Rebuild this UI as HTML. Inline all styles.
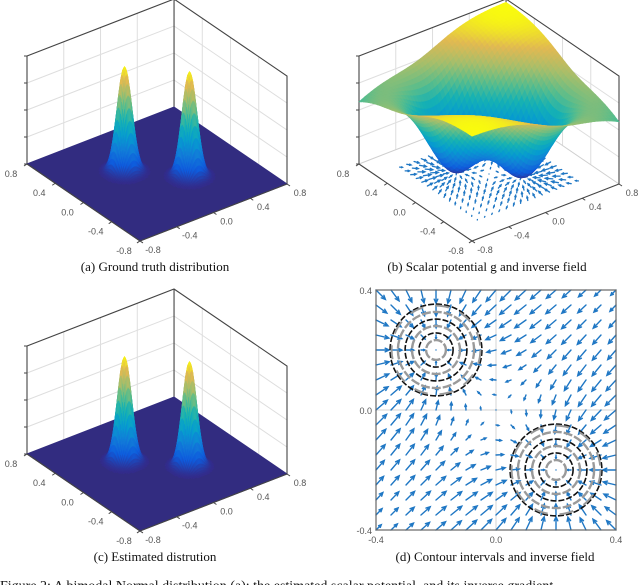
<!DOCTYPE html>
<html><head><meta charset="utf-8"><style>
html,body{margin:0;padding:0;background:#fff;}
svg{display:block;}
text{font-family:"Liberation Sans",sans-serif;}
.cap{font-family:"Liberation Serif",serif;font-size:13px;fill:#111;}
</style></head><body>
<svg id="fig" width="640" height="585" viewBox="0 0 640 585" xmlns="http://www.w3.org/2000/svg">
<rect x="0" y="0" width="640" height="585" fill="#fff"/>
<g id="pa"></g>
<g id="pb"></g>
<g id="pc"></g>
<g id="pd"></g>
<text class="cap" x="155" y="271" text-anchor="middle">(a)  Ground truth distribution</text>
<text class="cap" x="487" y="271" text-anchor="middle">(b)  Scalar potential g and inverse field</text>
<text class="cap" x="155" y="561" text-anchor="middle">(c)  Estimated distrution</text>
<text class="cap" x="495" y="561" text-anchor="middle">(d)  Contour intervals and inverse field</text>
<text x="0" y="590" style="font-family:'Liberation Serif',serif;font-size:14px;fill:#111">Figure 2: A bimodal Normal distribution (a); the estimated scalar potential, and its inverse gradient</text>
</svg>
<script>
// ---- data ----
const peakX = [-0.2, 0.2];
const peakY = [0.2, -0.2];
const peakHeightA = [0.97, 0.97];
const peakSigmaA = [0.065, 0.065];
const peakHeightC = [0.97, 0.97];
const peakSigmaC = [0.062, 0.062];
const axisTicks3D = [-0.8, -0.4, 0.0, 0.4, 0.8];
const axisTickLabels3D = ["-0.8", "-0.4", "0.0", "0.4", "0.8"];
const zTicks = [0, 0.25, 0.5, 0.75, 1];
const potentialScale = [0.97];
const potentialSigma = [0.28];
const potentialAniso = [0.4];
const quiverRangeB = [-0.55, 0.55];
const quiverRangeD = [-0.4, 0.4];
const axisTicks2D = [-0.4, 0.0, 0.4];
const axisTickLabels2D = ["-0.4", "0.0", "0.4"];
const contourRadiiBlack = [0.153, 0.103, 0.057];
const contourRadiiGray = [0.127, 0.08, 0.033];

// ---- helpers ----
const NS = "http://www.w3.org/2000/svg";
function mk(parent, tag, attrs) {
  const e = document.createElementNS(NS, tag);
  for (const k in attrs) e.setAttribute(k, attrs[k]);
  parent.appendChild(e);
  return e;
}
const parulaStops = [[53,42,135],[15,92,221],[18,125,216],[7,156,207],[21,177,180],[89,189,140],[165,190,107],[225,185,82],[249,251,14]];
function parula(t) {
  t = Math.max(0, Math.min(1, t));
  const f = t * (parulaStops.length - 1);
  const i = Math.min(parulaStops.length - 2, Math.floor(f));
  const r = f - i, a = parulaStops[i], b = parulaStops[i + 1];
  return "rgb(" + [0,1,2].map(k => Math.round(a[k] + (b[k] - a[k]) * r)).join(",") + ")";
}
function P(ox, oy, x, y, z) {
  return [ox + 157 + x * 91.9 - y * 70.6, oy + 174 - x * 35.6 - y * 48.1 - z * 108];
}
function pts(a) { return a.map(p => p[0].toFixed(1) + "," + p[1].toFixed(1)).join(" "); }

function gauss(x, y, H, S) {
  let z = 0;
  for (let i = 0; i < peakX.length; i++) {
    const d2 = (x - peakX[i]) ** 2 + (y - peakY[i]) ** 2;
    z += H[i] * Math.exp(-d2 / (2 * S[i] * S[i]));
  }
  return z;
}
function potential(x, y) {
  let g = potentialScale[0] * (1 - potentialAniso[0] * ((x - y) / 1.6) ** 2);
  for (let i = 0; i < peakX.length; i++) {
    const d2 = (x - peakX[i]) ** 2 + (y - peakY[i]) ** 2;
    g *= 1 - Math.exp(-d2 / (2 * potentialSigma[0] ** 2));
  }
  return g;
}
function field(x, y) {
  const h = 1e-3;
  return [-(potential(x + h, y) - potential(x - h, y)) / (2 * h),
          -(potential(x, y + h) - potential(x, y - h)) / (2 * h)];
}

function drawBox(g, ox, oy, filledFloor) {
  const lx = -0.8, hy = 0.8, hx = 0.8, ly = -0.8;
  axisTicks3D.forEach(t => {
    if (Math.abs(t) < 0.79) {
      let a = P(ox, oy, t, hy, 0), b = P(ox, oy, t, hy, 1);
      const l1 = mk(g, "line", {x1:a[0],y1:a[1],x2:b[0],y2:b[1],stroke:"#dedede","stroke-width":1});
      
      
      a = P(ox, oy, hx, t, 0); b = P(ox, oy, hx, t, 1);
      const l2 = mk(g, "line", {x1:a[0],y1:a[1],x2:b[0],y2:b[1],stroke:"#dedede","stroke-width":1});
      
      
    }
  });
  zTicks.forEach(z => {
    if (z > 0 && z < 1) {
      const a = P(ox, oy, lx, hy, z), b = P(ox, oy, hx, hy, z), c = P(ox, oy, hx, ly, z);
      const l = mk(g, "polyline", {points:pts([a,b,c]),fill:"none",stroke:"#dedede","stroke-width":1});
      
      
    }
  });
  const L0 = P(ox,oy,lx,hy,0), L1 = P(ox,oy,lx,hy,1), B0 = P(ox,oy,hx,hy,0), B1 = P(ox,oy,hx,hy,1);
  const R0 = P(ox,oy,hx,ly,0), R1 = P(ox,oy,hx,ly,1), F0 = P(ox,oy,lx,ly,0);
  const fl = mk(g, "polyline", {points:pts([L0,B0,R0]),fill:"none",stroke:"#cfcfcf","stroke-width":1});
  
  
  const edges = mk(g, "path", {d:"M"+L0+"L"+L1+"L"+B1+"L"+R1+"L"+R0+"M"+B1+"L"+B0, fill:"none", stroke:"#444","stroke-width":1.1});
  
  
  zTicks.forEach(z => {
    const a = P(ox, oy, lx, hy, z);
    const t = mk(g, "line", {x1:a[0]-3,y1:a[1],x2:a[0],y2:a[1],stroke:"#444","stroke-width":1});
    
    
  });
  if (filledFloor) {
    const f = mk(g, "polygon", {points:pts([L0,B0,R0,F0]),fill:"rgb(50,44,128)",stroke:"rgb(50,44,128)"});
    
    
  }
}
function drawFrontAxes(g, ox, oy) {
  const L0 = P(ox,oy,-0.8,0.8,0), F0 = P(ox,oy,-0.8,-0.8,0), R0 = P(ox,oy,0.8,-0.8,0);
  const ax = mk(g, "polyline", {points:pts([L0,F0,R0]),fill:"none",stroke:"#444","stroke-width":1.1});
  
  
  axisTicks3D.forEach((t, i) => {
    let p = P(ox, oy, -0.8, t, 0);
    const tk = mk(g, "line", {x1:p[0],y1:p[1],x2:p[0]-3,y2:p[1]+2,stroke:"#444","stroke-width":1});
    
    
    const tx = mk(g, "text", {x:p[0]-16,y:p[1]+13,"font-size":9,fill:"#555","text-anchor":"middle"});
    tx.textContent = axisTickLabels3D[i];
    
    
    p = P(ox, oy, t, -0.8, 0);
    const tk2 = mk(g, "line", {x1:p[0],y1:p[1],x2:p[0]+3,y2:p[1]+2,stroke:"#444","stroke-width":1});
    
    
    const tx2 = mk(g, "text", {x:p[0]+13,y:p[1]+12,"font-size":9,fill:"#555","text-anchor":"middle"});
    tx2.textContent = axisTickLabels3D[i];
    
    
  });
}
function drawQuads(g, ox, oy, quads, fn, zmax, name) {
  quads.sort((a, b) => a.d - b.d);
  quads.forEach(q => {
    const x0 = q.x, y0 = q.y, s = q.s;
    const c = [[x0,y0],[x0+s,y0],[x0+s,y0+s],[x0,y0+s]].map(v => [v[0], v[1], fn(v[0], v[1])]);
    const zc = (c[0][2] + c[1][2] + c[2][2] + c[3][2]) / 4;
    const col = parula(zc / zmax);
    const p = mk(g, "polygon", {points:pts(c.map(v => P(ox, oy, v[0], v[1], v[2]))), fill:col, stroke:col, "stroke-width":0.6});
    
    
  });
}
function peakPanel(gid, ox, oy, H, S) {
  const g = document.getElementById(gid);
  drawBox(g, ox, oy, true);
  const fn = (x, y) => gauss(x, y, H, S);
  const quads = [], s = 0.0125;
  for (let i = 0; i < peakX.length; i++) {
    for (let x = peakX[i] - 0.25; x < peakX[i] + 0.25; x += s)
      for (let y = peakY[i] - 0.25; y < peakY[i] + 0.25; y += s) {
        const zc = fn(x + s / 2, y + s / 2);
        if (zc < 0.004) continue;
        const c = P(0, 0, x + s / 2, y + s / 2, 0);
        quads.push({x:x, y:y, s:s, d:c[1]});
      }
  }
  drawQuads(g, ox, oy, quads, fn, Math.max(...H), 'peak-surface-patch');
  drawFrontAxes(g, ox, oy);
}
function arrow(g, x1, y1, x2, y2, w, name) {
  const dx = x2 - x1, dy = y2 - y1, L = Math.hypot(dx, dy);
  let d = "M" + x1.toFixed(1) + "," + y1.toFixed(1) + "L" + x2.toFixed(1) + "," + y2.toFixed(1);
  if (L > 2) {
    const ux = dx / L, uy = dy / L, h = Math.min(4, L * 0.35);
    d += "M" + (x2 - h * ux + h * 0.45 * uy).toFixed(1) + "," + (y2 - h * uy - h * 0.45 * ux).toFixed(1) +
         "L" + x2.toFixed(1) + "," + y2.toFixed(1) +
         "L" + (x2 - h * ux - h * 0.45 * uy).toFixed(1) + "," + (y2 - h * uy + h * 0.45 * ux).toFixed(1);
  }
  const p = mk(g, "path", {d:d, fill:"none", stroke:"#1f77c4", "stroke-width":w, "stroke-linecap":"round"});
  
  
}
function maxField(lo, hi, n) {
  let m = 0;
  for (let i = 0; i < n; i++) for (let j = 0; j < n; j++) {
    const x = lo + (hi - lo) * i / (n - 1), y = lo + (hi - lo) * j / (n - 1);
    const v = field(x, y); m = Math.max(m, Math.hypot(v[0], v[1]));
  }
  return m;
}
// panel a, c
peakPanel("pa", 0, 0, peakHeightA, peakSigmaA);
peakPanel("pc", 0, 290, peakHeightC, peakSigmaC);
// panel b
(function () {
  const g = document.getElementById("pb"), ox = 332, oy = 0;
  drawBox(g, ox, oy, false);
  const n = 15, lo = quiverRangeB[0], hi = quiverRangeB[1];
  const m = maxField(lo, hi, n);
  for (let i = 0; i < n; i++) for (let j = 0; j < n; j++) {
    const x = lo + (hi - lo) * i / (n - 1), y = lo + (hi - lo) * j / (n - 1);
    const v = field(x, y), k = 0.075 / m;
    const a = P(ox, oy, x, y, 0), b = P(ox, oy, x + v[0] * k, y + v[1] * k, 0);
    arrow(g, a[0], a[1], b[0], b[1], 1.3, 'field-arrow-3d');
  }
  const quads = [], s = 1.6 / 48;
  let zmax = 0;
  for (let i = 0; i < 48; i++) for (let j = 0; j < 48; j++) {
    const x = -0.8 + i * s, y = -0.8 + j * s;
    zmax = Math.max(zmax, potential(x, y));
    quads.push({x:x, y:y, s:s, d:P(0, 0, x + s / 2, y + s / 2, 0)[1]});
  }
  drawQuads(g, ox, oy, quads, potential, zmax, 'potential-surface-patch');
  drawFrontAxes(g, ox, oy);
})();
// panel d
(function () {
  const g = document.getElementById("pd");
  const sx = v => 496 + v * 300, sy = v => 410 - v * 300;
  const cx = mk(g, "path", {d:"M"+sx(0)+","+sy(0.4)+"V"+sy(-0.4)+"M"+sx(-0.4)+","+sy(0)+"H"+sx(0.4), stroke:"#dcdcdc","stroke-width":1.2,fill:"none"});
  
  
  const n = 17, lo = quiverRangeD[0], hi = quiverRangeD[1];
  const m = maxField(lo, hi, n);
  for (let i = 0; i < n; i++) for (let j = 0; j < n; j++) {
    const x = lo + (hi - lo) * i / (n - 1), y = lo + (hi - lo) * j / (n - 1);
    const v = field(x, y), k = 15 / m;
    arrow(g, sx(x), sy(y), sx(x) + v[0] * k, sy(y) - v[1] * k, 1.4, 'field-arrow');
  }
  for (let i = 0; i < peakX.length; i++) {
    contourRadiiGray.forEach(r => {
      const c = mk(g, "circle", {cx:sx(peakX[i]), cy:sy(peakY[i]), r:r*300, fill:"none", stroke:"#9a9a9a","stroke-width":2.4,"stroke-dasharray":"9 2"});
      
      
    });
    contourRadiiBlack.forEach(r => {
      const c = mk(g, "circle", {cx:sx(peakX[i]), cy:sy(peakY[i]), r:r*300, fill:"none", stroke:"#111","stroke-width":1.6,"stroke-dasharray":"6 2"});
      
      
    });
    const c = mk(g, "circle", {cx:sx(peakX[i]), cy:sy(peakY[i]), r:contourRadiiBlack[0]*300-1.5, fill:"none", stroke:"#999","stroke-width":2,"stroke-dasharray":"14 12"});
    
    
  }
  const fr = mk(g, "rect", {x:sx(-0.4), y:sy(0.4), width:240, height:240, fill:"none", stroke:"#666","stroke-width":1.2});
  
  
  axisTicks2D.forEach((t, i) => {
    const a = mk(g, "text", {x:sx(t), y:sy(-0.4)+13, "font-size":9, fill:"#555", "text-anchor":"middle"});
    a.textContent = axisTickLabels2D[i];
    
    
    const b = mk(g, "text", {x:sx(-0.4)-4, y:sy(t)+4, "font-size":9, fill:"#555", "text-anchor":"end"});
    b.textContent = axisTickLabels2D[i];
    
    
  });
})();
</script>
</body></html>
